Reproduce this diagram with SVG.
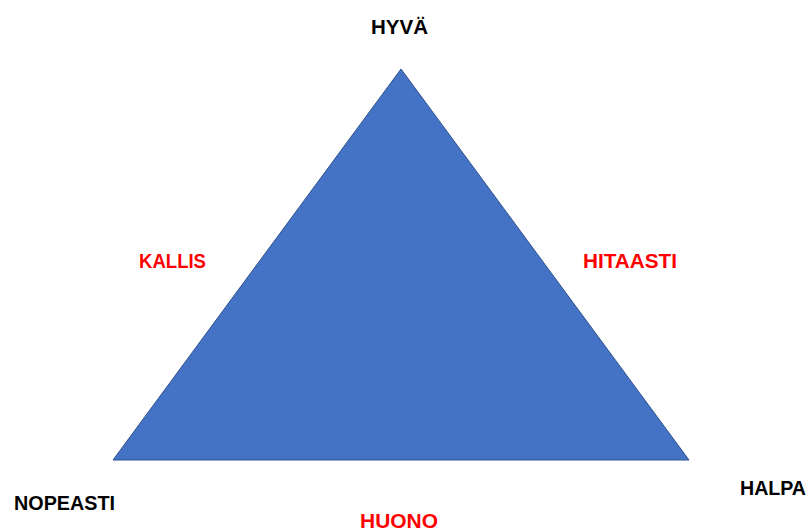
<svg xmlns="http://www.w3.org/2000/svg" width="807" height="532" viewBox="0 0 807 532">
<style>
text{font-family:"Liberation Sans",Arial,sans-serif;font-weight:bold;font-size:20px}
.k{fill:#000}
.r{fill:#FF0000}
</style>
<rect width="807" height="532" fill="#fff"/>
<g id="triangle">
<polygon points="401,69 113,460 689,460" fill="#4472C4" stroke="#2F528F" stroke-width="1"/>
</g>
<g id="label-hyva"><text class="k" x="371" y="34" textLength="57" lengthAdjust="spacingAndGlyphs">HYVÄ</text></g>
<g id="label-nopeasti"><text class="k" x="14" y="510" textLength="101" lengthAdjust="spacingAndGlyphs">NOPEASTI</text></g>
<g id="label-halpa"><text class="k" x="740" y="495" textLength="66" lengthAdjust="spacingAndGlyphs">HALPA</text></g>
<g id="label-kallis"><text class="r" x="139" y="268" textLength="67" lengthAdjust="spacingAndGlyphs">KALLIS</text></g>
<g id="label-hitaasti"><text class="r" x="583" y="268" textLength="94" lengthAdjust="spacingAndGlyphs">HITAASTI</text></g>
<g id="label-huono"><text class="r" x="360" y="528" textLength="78" lengthAdjust="spacingAndGlyphs">HUONO</text></g>
</svg>
